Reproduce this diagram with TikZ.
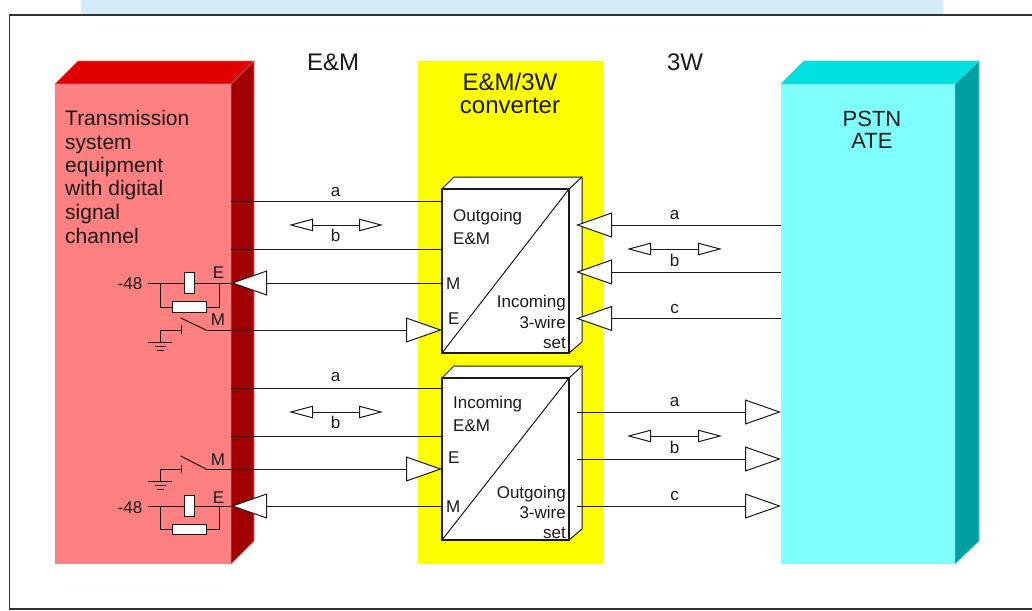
\documentclass[tikz,border=0pt]{standalone}
\usepackage{fontspec}
\setmainfont{Liberation Sans}
\usetikzlibrary{arrows.meta}
\definecolor{BandBlue}{HTML}{D4ECFA}
\definecolor{FrameGray}{HTML}{333333}
\definecolor{RedFront}{HTML}{FF8080}
\definecolor{RedTop}{HTML}{E00000}
\definecolor{RedSide}{HTML}{A00000}
\definecolor{RedEdge}{HTML}{E86060}
\definecolor{CyanFront}{HTML}{80FFFF}
\definecolor{CyanTop}{HTML}{00E0E0}
\definecolor{CyanSide}{HTML}{00A0A0}
\definecolor{CyanEdge}{HTML}{40D0D0}
\definecolor{ConvYellow}{HTML}{FFFF00}
\definecolor{WireGray}{HTML}{1A1A1A}

\begin{document}
\begin{tikzpicture}[x=1pt, y=-1pt,
    front/.style={minimum width=176pt, minimum height=480pt, inner sep=0pt, outer sep=0pt},
    conv/.style={draw=WireGray, fill=white, line width=1.5pt, minimum width=127pt, inner sep=0pt, outer sep=0pt},
    wire/.style={line width=1pt, color=WireGray},
    harr/.style={wire, -{Triangle[open, fill=white, length=36pt, width=25pt]}},
    darr/.style={wire, {Triangle[open, fill=white, length=24pt, width=12.5pt]}-{Triangle[open, fill=white, length=24pt, width=12.5pt]}},
    part/.style={draw=WireGray, fill=white, line width=1pt, inner sep=0pt, outer sep=0pt},
    big/.style={font=\fontsize{24}{28}\selectfont, text=WireGray, inner sep=0pt, anchor=base},
    mid/.style={font=\fontsize{21}{24}\selectfont, text=WireGray, inner sep=0pt, anchor=base west},
    lab/.style={font=\fontsize{17}{20}\selectfont, text=WireGray, inner sep=0pt, anchor=base},
  ]
    \useasboundingbox (0,0) rectangle (1032,610);

    % Rahmen
    \fill[BandBlue] (81,0) rectangle (943,14);
    \draw[line width=1.3pt, color=FrameGray] (1032,15) -- (9.5,15) -- (9.5,609) -- (1032,609);

    % Blöcke
    \fill[ConvYellow] (418,61) rectangle (604,564);
    \filldraw[fill=RedTop, draw=RedEdge, line width=.7pt] (55,84) -- (78,61) -- (254,61) -- (231,84) -- cycle;
    \filldraw[fill=RedSide, draw=RedEdge, line width=.7pt] (231,84) -- (254,61) -- (254,541) -- (231,564) -- cycle;
    \node[front, fill=RedFront] (tse) at (143,324) {};
    \filldraw[fill=CyanTop, draw=CyanEdge, line width=.7pt] (781,84) -- (804,61) -- (979,61) -- (955,84) -- cycle;
    \filldraw[fill=CyanSide, draw=CyanEdge, line width=.7pt] (955,84) -- (979,61) -- (979,541) -- (955,564) -- cycle;
    \node[front, fill=CyanFront, minimum width=174pt] (pstn) at (868,324) {};

    % Umsetzer oben
    \filldraw[fill=white, draw=WireGray, line width=1pt] (442,189) -- (454,177) -- (582,177) -- (582,342) -- (569,353) -- (569,189) -- cycle;
    \draw[wire] (569,189) -- (582,177);
    \node[conv, minimum height=164pt] (cvo) at (505.5,271) {};
    \draw[wire] (cvo.south west) -- (cvo.north east);

    % Umsetzer unten
    \filldraw[fill=white, draw=WireGray, line width=1pt] (442,378) -- (454,366) -- (582,366) -- (582,529) -- (569,540) -- (569,378) -- cycle;
    \draw[wire] (569,378) -- (582,366);
    \node[conv, minimum height=162pt] (cvu) at (505.5,459) {};
    \draw[wire] (cvu.south west) -- (cvu.north east);

    % Linke Seite oben
    \draw[wire] (tse.east |- 0,201) -- (cvo.west |- 0,201);
    \draw[wire] (tse.east |- 0,249) -- (cvo.west |- 0,249);
    \draw[harr] (cvo.west |- 0,283) -- (tse.east |- 0,283);
    \coordinate (sw1) at (206,330);
    \draw[harr] (sw1) -- (cvo.west |- 0,330);
    \coordinate (da1) at (289,225);
    \coordinate (da2) at (383,225);
    \draw[darr] (da1) -- (da2);

    % Linke Seite unten
    \draw[wire] (tse.east |- 0,388) -- (cvu.west |- 0,388);
    \draw[wire] (tse.east |- 0,436) -- (cvu.west |- 0,436);
    \draw[harr] (cvu.west |- 0,506) -- (tse.east |- 0,506);
    \coordinate (sw2) at (206,469);
    \draw[harr] (sw2) -- (cvu.west |- 0,469);
    \coordinate (da3) at (289,412);
    \coordinate (da4) at (383,412);
    \draw[darr] (da3) -- (da4);

    % Relais und Schalter oben
    \draw[wire] (148,283) -- (tse.east |- 0,283);
    \draw[wire] (160.5,283) -- (160.5,307) -- (219,307) -- (219,283);
    \node[part, minimum width=9.5pt, minimum height=21.5pt] (rel1) at (189.5,283) {};
    \node[part, minimum width=33.5pt, minimum height=10.5pt] (res1) at (189.5,307) {};
    \draw[wire] (sw1) -- (180.7,318);
    \draw[wire] (181.5,325) -- (181.5,334);
    \draw[wire] (181.5,330) -- (160.5,330) -- (160.5,342);
    \draw[wire] (148,342) -- (172,342);
    \draw[wire] (155,346) -- (166,346);
    \draw[wire] (157,350) -- (164,350);

    % Relais und Schalter unten
    \draw[wire] (148,506) -- (tse.east |- 0,506);
    \draw[wire] (160.5,506) -- (160.5,529) -- (219,529) -- (219,506);
    \node[part, minimum width=9.5pt, minimum height=21.5pt] (rel2) at (189.5,506) {};
    \node[part, minimum width=33.5pt, minimum height=10.5pt] (res2) at (189.5,529.5) {};
    \draw[wire] (sw2) -- (180.7,456);
    \draw[wire] (181.5,464.5) -- (181.5,473);
    \draw[wire] (181.5,469) -- (160.5,469) -- (160.5,481);
    \draw[wire] (148,481) -- (172,481);
    \draw[wire] (155,485) -- (166,485);
    \draw[wire] (157,489) -- (164,489);

    % Rechte Seite oben
    \coordinate (ra1) at (576,225);
    \coordinate (rb1) at (576,272);
    \coordinate (rc1) at (576,318.5);
    \draw[harr] (pstn.west |- ra1) -- (ra1);
    \draw[harr] (pstn.west |- rb1) -- (rb1);
    \draw[harr] (pstn.west |- rc1) -- (rc1);
    \coordinate (da5) at (627,249);
    \coordinate (da6) at (722,249);
    \draw[darr] (da5) -- (da6);

    % Rechte Seite unten
    \coordinate (ra2) at (577,412);
    \coordinate (rb2) at (577,459);
    \coordinate (rc2) at (577,506);
    \draw[harr] (ra2) -- (pstn.west |- ra2);
    \draw[harr] (rb2) -- (pstn.west |- rb2);
    \draw[harr] (rc2) -- (pstn.west |- rc2);
    \coordinate (da7) at (627,436);
    \coordinate (da8) at (722,436);
    \draw[darr] (da7) -- (da8);

    % Überschriften
    \node[big] (tem) at (333,70.5) {E\&M};
    \node[big] (t3w) at (685,70.5) {3W};
    \node[big] (tc1) at (510,90) {E\&M/3W};
    \node[big] (tc2) at (510,113) {converter};
    \node[big, font=\fontsize{22}{26}\selectfont] (tp1) at (872,126) {PSTN};
    \node[big, font=\fontsize{22}{26}\selectfont] (tp2) at (872,148) {ATE};
    \node[mid] (ts1) at (65,125) {Transmission};
    \node[mid] (ts2) at (65,149) {system};
    \node[mid] (ts3) at (65,172) {equipment};
    \node[mid] (ts4) at (65,195) {with digital};
    \node[mid] (ts5) at (65,219) {signal};
    \node[mid] (ts6) at (65,243) {channel};

    % Beschriftung links
    \node[lab] (la1) at (335.5,196.5) {a};
    \node[lab] (lb1) at (335.5,241.5) {b};
    \node[lab] (la2) at (335.5,381.5) {a};
    \node[lab] (lb2) at (335.5,428.5) {b};
    \node[lab] (v1) at (130,289) {-48};
    \node[lab] (v2) at (130,513) {-48};
    \node[lab] (e1) at (218.5,278) {E};
    \node[lab] (m1) at (218,325) {M};
    \node[lab] (m2) at (218,465) {M};
    \node[lab] (e2) at (218.5,503) {E};

    % Beschriftung Umsetzer oben
    \node[lab, anchor=base west] (co1) at (453,221) {Outgoing};
    \node[lab, anchor=base west] (co2) at (453,244) {E\&M};
    \node[lab, anchor=base west] (co3) at (446,289) {M};
    \node[lab, anchor=base west] (co4) at (448,324) {E};
    \node[lab, anchor=base east] (co5) at (566,307) {Incoming};
    \node[lab, anchor=base east] (co6) at (566,328) {3-wire};
    \node[lab, anchor=base east] (co7) at (566,348) {set};

    % Beschriftung Umsetzer unten
    \node[lab, anchor=base west] (cu1) at (453,408) {Incoming};
    \node[lab, anchor=base west] (cu2) at (453,431) {E\&M};
    \node[lab, anchor=base west] (cu3) at (448,463) {E};
    \node[lab, anchor=base west] (cu4) at (446,512) {M};
    \node[lab, anchor=base east] (cu5) at (566,498) {Outgoing};
    \node[lab, anchor=base east] (cu6) at (566,518.5) {3-wire};
    \node[lab, anchor=base east] (cu7) at (566,538.5) {set};

    % Beschriftung rechts
    \node[lab] (ra) at (674.5,219.5) {a};
    \node[lab] (rb) at (674.5,266.5) {b};
    \node[lab] (rc) at (674.5,313.5) {c};
    \node[lab] (ru) at (674.5,406.5) {a};
    \node[lab] (rv) at (674.5,453.5) {b};
    \node[lab] (rw) at (674.5,500.5) {c};
  \end{tikzpicture}
\end{document}
